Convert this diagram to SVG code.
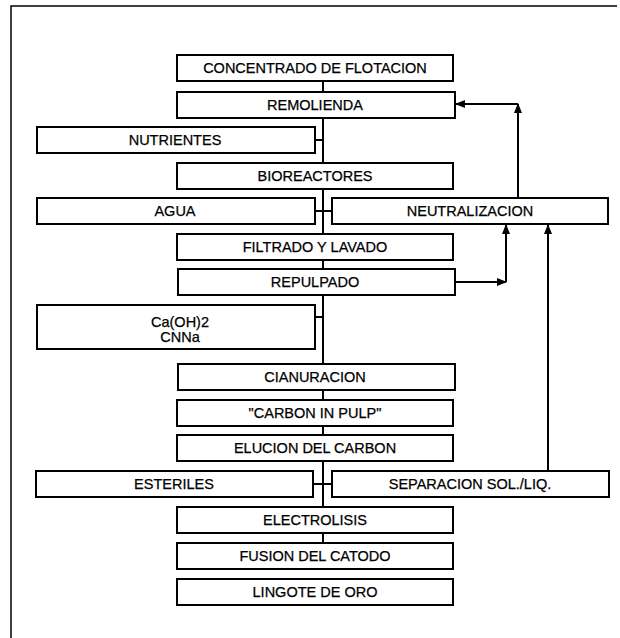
<svg xmlns="http://www.w3.org/2000/svg" width="620" height="638" viewBox="0 0 620 638">
<style>
.box{fill:#fff;stroke:#000;stroke-width:2}
.t{font-family:"Liberation Sans",Arial,sans-serif;font-size:14.5px;fill:#000;text-anchor:middle;stroke:#000;stroke-width:0.25}
.ln{fill:none;stroke:#000;stroke-width:2}
.frame{fill:none;stroke:#000;stroke-width:1.5}
</style>
<defs>
<marker id="ah" markerWidth="10" markerHeight="8" refX="9" refY="4" orient="auto" markerUnits="userSpaceOnUse">
<path d="M0,0 L10,4 L0,8 Z" fill="#000"/>
</marker>
</defs>
<rect width="620" height="638" fill="#fff"/>
<path class="frame" d="M11,638 V6 H617"/>
<g id="connectors">
<path class="ln" d="M323,81 V543"/>
<path class="ln" d="M315,140 H323"/>
<path class="ln" d="M315,211 H332"/>
<path class="ln" d="M315,317 H323"/>
<path class="ln" d="M313,484 H332"/>
<path class="ln" d="M518,198 V104" marker-end="url(#ah)"/>
<path class="ln" d="M518,104 H456" marker-end="url(#ah)"/>
<path class="ln" d="M455,282 H506" marker-end="url(#ah)"/>
<path class="ln" d="M506,282 V225" marker-end="url(#ah)"/>
<path class="ln" d="M548,471 V225" marker-end="url(#ah)"/>
</g>
<g id="concentrado"><rect class="box" x="177" y="55" width="276" height="26"/><text class="t" x="315" y="73">CONCENTRADO DE FLOTACION</text></g>
<g id="remolienda"><rect class="box" x="177" y="92" width="278" height="26"/><text class="t" x="315" y="110">REMOLIENDA</text></g>
<g id="nutrientes"><rect class="box" x="37" y="127" width="278" height="26"/><text class="t" x="175" y="145">NUTRIENTES</text></g>
<g id="bioreactores"><rect class="box" x="177" y="163" width="276" height="26"/><text class="t" x="315" y="181">BIOREACTORES</text></g>
<g id="agua"><rect class="box" x="37" y="198" width="278" height="26"/><text class="t" x="175" y="216">AGUA</text></g>
<g id="neutralizacion"><rect class="box" x="332" y="198" width="276" height="26"/><text class="t" x="470" y="216">NEUTRALIZACION</text></g>
<g id="filtrado"><rect class="box" x="177" y="234" width="276" height="26"/><text class="t" x="315" y="252">FILTRADO Y LAVADO</text></g>
<g id="repulpado"><rect class="box" x="178" y="269" width="277" height="26"/><text class="t" x="315" y="287">REPULPADO</text></g>
<g id="reactivos"><rect class="box" x="37" y="305" width="278" height="44"/><text class="t" x="180" y="327">Ca(OH)2</text><text class="t" x="180" y="342">CNNa</text></g>
<g id="cianuracion"><rect class="box" x="178" y="364" width="277" height="26"/><text class="t" x="315" y="382">CIANURACION</text></g>
<g id="cip"><rect class="box" x="177" y="400" width="276" height="26"/><text class="t" x="315" y="418">"CARBON IN PULP"</text></g>
<g id="elucion"><rect class="box" x="177" y="435" width="276" height="26"/><text class="t" x="315" y="453">ELUCION DEL CARBON</text></g>
<g id="esteriles"><rect class="box" x="36" y="471" width="277" height="26"/><text class="t" x="174" y="489">ESTERILES</text></g>
<g id="separacion"><rect class="box" x="332" y="471" width="277" height="26"/><text class="t" x="470" y="489">SEPARACION SOL./LIQ.</text></g>
<g id="electrolisis"><rect class="box" x="177" y="507" width="276" height="26"/><text class="t" x="315" y="525">ELECTROLISIS</text></g>
<g id="fusion"><rect class="box" x="177" y="543" width="276" height="26"/><text class="t" x="315" y="561">FUSION DEL CATODO</text></g>
<g id="lingote"><rect class="box" x="177" y="579" width="276" height="26"/><text class="t" x="315" y="597">LINGOTE DE ORO</text></g>
</svg>
